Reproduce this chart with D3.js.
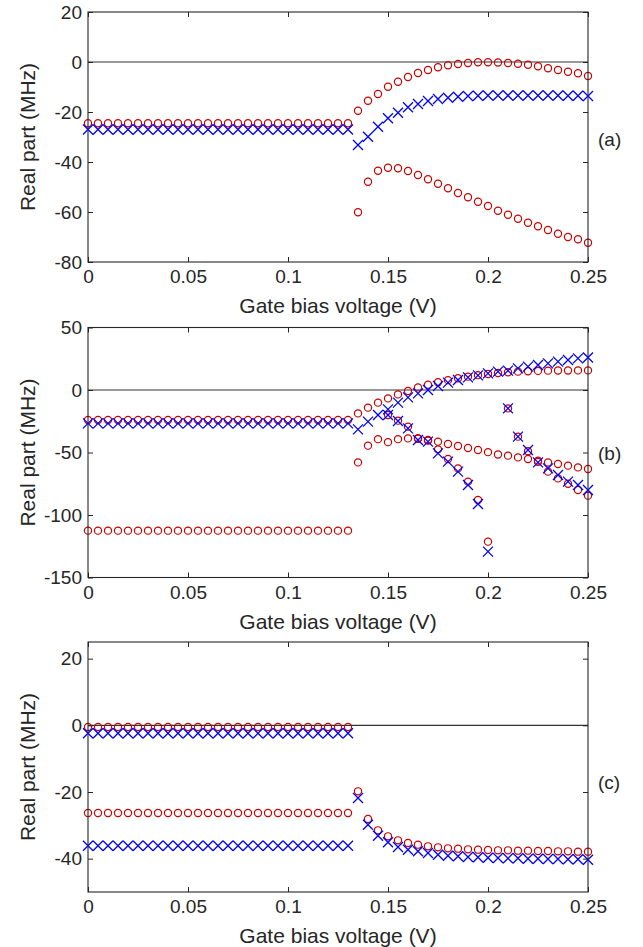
<!DOCTYPE html>
<html>
<head>
<meta charset="utf-8">
<script src="https://cdn.jsdelivr.net/npm/d3@7/dist/d3.min.js"></script>
<style>
  html, body { margin: 0; padding: 0; background: #fff; }
  svg { display: block; }
  text { font-family: "Liberation Sans", Arial, Helvetica, sans-serif; fill: #262626; }
</style>
</head>
<body>
<svg id="chart" width="643" height="947"></svg>
<script>
// Gate bias sweep (V)
const gateBias = [
  0.000, 0.005, 0.010, 0.015, 0.020, 0.025, 0.030, 0.035, 0.040, 0.045,
  0.050, 0.055, 0.060, 0.065, 0.070, 0.075, 0.080, 0.085, 0.090, 0.095,
  0.100, 0.105, 0.110, 0.115, 0.120, 0.125, 0.130, 0.135, 0.140, 0.145,
  0.150, 0.155, 0.160, 0.165, 0.170, 0.175, 0.180, 0.185, 0.190, 0.195,
  0.200, 0.205, 0.210, 0.215, 0.220, 0.225, 0.230, 0.235, 0.240, 0.245,
  0.250
];

const N = null;

// Panel (a): real parts (MHz)
const aCircle1 = [
  -24.5, -24.5, -24.5, -24.5, -24.5, -24.5, -24.5, -24.5, -24.5, -24.5,
  -24.5, -24.5, -24.5, -24.5, -24.5, -24.5, -24.5, -24.5, -24.5, -24.5,
  -24.5, -24.5, -24.5, -24.5, -24.5, -24.5, -24.5, -19.5, -15.5, -12.8,
  -9.9, -7.9, -6.0, -4.4, -3.2, -2.1, -1.3, -0.8, -0.4, -0.1,
  -0.1, -0.2, -0.4, -0.7, -1.1, -1.7, -2.5, -3.2, -3.9, -4.5,
  -5.6
];
const aCircle2 = [
  N, N, N, N, N, N, N, N, N, N,
  N, N, N, N, N, N, N, N, N, N,
  N, N, N, N, N, N, N, -60.1, -47.9, -43.5,
  -42.3, -42.5, -43.6, -45.2, -46.9, -48.7, -50.5, -52.4, -54.1, -55.9,
  -57.6, -59.5, -61.1, -62.7, -64.3, -65.7, -67.2, -68.7, -70.0, -70.9,
  -72.3
];
const aCross1 = [
  -27.0, -27.0, -27.0, -27.0, -27.0, -27.0, -27.0, -27.0, -27.0, -27.0,
  -27.0, -27.0, -27.0, -27.0, -27.0, -27.0, -27.0, -27.0, -27.0, -27.0,
  -27.0, -27.0, -27.0, -27.0, -27.0, -27.0, -27.0, -33.2, -29.9, -25.9,
  -22.5, -20.3, -18.1, -16.8, -15.6, -14.8, -14.3, -13.9, -13.6, -13.5,
  -13.4, -13.4, -13.4, -13.4, -13.4, -13.4, -13.4, -13.4, -13.5, -13.5,
  -13.6
];

// Panel (b): real parts (MHz)
const bCircle1 = [
  -24.0, -24.0, -24.0, -24.0, -24.0, -24.0, -24.0, -24.0, -24.0, -24.0,
  -24.0, -24.0, -24.0, -24.0, -24.0, -24.0, -24.0, -24.0, -24.0, -24.0,
  -24.0, -24.0, -24.0, -24.0, -24.0, -24.0, -24.0, -18.7, -14.1, -10.1,
  -6.7, -3.5, -0.8, 2.1, 4.2, 6.2, 7.9, 9.4, 10.7, 11.9,
  12.8, 13.6, 14.2, 14.7, 15.0, 15.3, 15.5, 15.6, 15.6, 15.7,
  15.7
];
const bCircle2 = [
  -112.5, -112.5, -112.5, -112.5, -112.5, -112.5, -112.5, -112.5, -112.5, -112.5,
  -112.5, -112.5, -112.5, -112.5, -112.5, -112.5, -112.5, -112.5, -112.5, -112.5,
  -112.5, -112.5, -112.5, -112.5, -112.5, -112.5, -112.5, -57.9, -44.5, -39.3,
  -41.7, -39.3, -38.7, -38.6, -40.0, -41.3, -43.2, -44.8, -46.4, -48.0,
  -49.7, -51.6, -52.5, -53.9, -55.2, -56.5, -58.0, -59.2, -60.5, -61.9,
  -63.2
];
const bCircle3 = [
  N, N, N, N, N, N, N, N, N, N,
  N, N, N, N, N, N, N, N, N, N,
  N, N, N, N, N, N, N, N, N, N,
  -20.0, -24.5, -29.3, -39.0, -40.5, -47.5, -55.2, -62.7, -73.3, -88.0,
  -121.3, N, -14.7, -37.3, -49.0, -57.5, -65.3, -70.7, -75.0, -80.0,
  -84.5
];
const bCross1 = [
  -26.7, -26.7, -26.7, -26.7, -26.7, -26.7, -26.7, -26.7, -26.7, -26.7,
  -26.7, -26.7, -26.7, -26.7, -26.7, -26.7, -26.7, -26.7, -26.7, -26.7,
  -26.7, -26.7, -26.7, -26.7, -26.7, -26.7, -26.7, -31.5, -25.3, -20.0,
  -15.5, -10.1, -5.9, -2.7, 0.0, 3.2, 5.9, 8.0, 10.1, 11.7,
  13.3, 14.7, 15.5, 17.3, 18.7, 20.0, 21.3, 22.7, 24.0, 25.3,
  26.0
];
const bCross2 = [
  N, N, N, N, N, N, N, N, N, N,
  N, N, N, N, N, N, N, N, N, N,
  N, N, N, N, N, N, N, N, N, N,
  -20.0, -24.8, -30.7, -40.0, -41.3, -50.7, -57.3, -65.3, -76.0, -91.2,
  -129.3, N, -14.7, -37.3, -48.0, -57.9, -62.7, -68.0, -73.3, -76.0,
  -80.0
];

// Panel (c): real parts (MHz)
const cCircle1 = [
  -0.5, -0.5, -0.5, -0.5, -0.5, -0.5, -0.5, -0.5, -0.5, -0.5,
  -0.5, -0.5, -0.5, -0.5, -0.5, -0.5, -0.5, -0.5, -0.5, -0.5,
  -0.5, -0.5, -0.5, -0.5, -0.5, -0.5, -0.5, -19.8, -28.1, -31.5,
  -33.3, -34.5, -35.3, -35.8, -36.3, -36.6, -36.9, -37.0, -37.2, -37.3,
  -37.4, -37.5, -37.5, -37.6, -37.6, -37.7, -37.7, -37.8, -37.8, -37.9,
  -37.9
];
const cCircle2 = [
  -26.3, -26.3, -26.3, -26.3, -26.3, -26.3, -26.3, -26.3, -26.3, -26.3,
  -26.3, -26.3, -26.3, -26.3, -26.3, -26.3, -26.3, -26.3, -26.3, -26.3,
  -26.3, -26.3, -26.3, -26.3, -26.3, -26.3, -26.3, N, N, N,
  N, N, N, N, N, N, N, N, N, N,
  N, N, N, N, N, N, N, N, N, N,
  N
];
const cCross1 = [
  -2.4, -2.4, -2.4, -2.4, -2.4, -2.4, -2.4, -2.4, -2.4, -2.4,
  -2.4, -2.4, -2.4, -2.4, -2.4, -2.4, -2.4, -2.4, -2.4, -2.4,
  -2.4, -2.4, -2.4, -2.4, -2.4, -2.4, -2.4, -21.8, -29.8, -33.1,
  -35.1, -36.5, -37.3, -37.8, -38.3, -38.8, -39.1, -39.3, -39.5, -39.6,
  -39.7, -39.8, -39.9, -39.9, -40.0, -40.0, -40.1, -40.1, -40.2, -40.2,
  -40.3
];
const cCross2 = [
  -36.1, -36.1, -36.1, -36.1, -36.1, -36.1, -36.1, -36.1, -36.1, -36.1,
  -36.1, -36.1, -36.1, -36.1, -36.1, -36.1, -36.1, -36.1, -36.1, -36.1,
  -36.1, -36.1, -36.1, -36.1, -36.1, -36.1, -36.1, N, N, N,
  N, N, N, N, N, N, N, N, N, N,
  N, N, N, N, N, N, N, N, N, N,
  N
];

// Axis ticks and labels
const xTicks = [0, 0.05, 0.1, 0.15, 0.2, 0.25];
const xTickLabels = ["0", "0.05", "0.1", "0.15", "0.2", "0.25"];
const yTicksA = [20, 0, -20, -40, -60, -80];
const yTicksB = [50, 0, -50, -100, -150];
const yTicksC = [20, 0, -20, -40];
const yDomainA = [-80, 20];
const yDomainB = [-150, 50];
const yDomainC = [-50, 25];
const panelLetters = ["(a)", "(b)", "(c)"];
const xTitle = "Gate bias voltage (V)";
const yTitle = "Real part (MHz)";

const panels = [
  { circles: [aCircle1, aCircle2], crosses: [aCross1], domain: yDomainA, ticks: yTicksA, letter: panelLetters[0], top: 12, letterY: 139.5 },
  { circles: [bCircle1, bCircle2, bCircle3], crosses: [bCross1, bCross2], domain: yDomainB, ticks: yTicksB, letter: panelLetters[1], top: 327.5, letterY: 453 },
  { circles: [cCircle1, cCircle2], crosses: [cCross1, cCross2], domain: yDomainC, ticks: yTicksC, letter: panelLetters[2], top: 642, letterY: 782 }
];

const svg = d3.select("#chart");
const left = 88, right = 588, plotH = 250;
const axisColor = "#262626";
const redColor = "#c80000";
const blueColor = "#0000ff";
const tickFont = 19, titleFont = 21;

const x = d3.scaleLinear().domain([0, 0.25]).range([left, right]);

panels.forEach(p => {
  const top = p.top, bottom = top + plotH;
  const y = d3.scaleLinear().domain(p.domain).range([bottom, top]);
  const g = svg.append("g");

  // zero reference line
  g.append("line")
    .attr("x1", x(0)).attr("x2", x(0.25))
    .attr("y1", y(0)).attr("y2", y(0))
    .attr("stroke", "#333").attr("stroke-width", 1.1);

  // circle markers
  p.circles.forEach(series => {
    g.append("g").selectAll("circle")
      .data(gateBias.map((v, i) => [v, series[i]]).filter(d => d[1] !== null))
      .join("circle")
      .attr("cx", d => x(d[0]))
      .attr("cy", d => y(d[1]))
      .attr("r", 3.6)
      .attr("fill", "none")
      .attr("stroke", redColor)
      .attr("stroke-width", 1.2);
  });

  // cross markers
  const s = 5;
  p.crosses.forEach(series => {
    g.append("g").selectAll("path")
      .data(gateBias.map((v, i) => [v, series[i]]).filter(d => d[1] !== null))
      .join("path")
      .attr("d", d => {
        const cx = x(d[0]), cy = y(d[1]);
        return `M${cx - s},${cy - s}L${cx + s},${cy + s}M${cx - s},${cy + s}L${cx + s},${cy - s}`;
      })
      .attr("fill", "none")
      .attr("stroke", blueColor)
      .attr("stroke-width", 1.3);
  });

  // axes: ticks inward on all four sides
  const xb = g.append("g").attr("transform", `translate(0,${bottom})`)
    .call(d3.axisBottom(x).tickValues(xTicks).tickSize(-5).tickPadding(8)
      .tickFormat((d, i) => xTickLabels[i]));
  const xt = g.append("g").attr("transform", `translate(0,${top})`)
    .call(d3.axisTop(x).tickValues(xTicks).tickSize(-5).tickFormat(""));
  const yl = g.append("g").attr("transform", `translate(${left},0)`)
    .call(d3.axisLeft(y).tickValues(p.ticks).tickSize(-5).tickPadding(6)
      .tickFormat(d => String(d)));
  const yr = g.append("g").attr("transform", `translate(${right},0)`)
    .call(d3.axisRight(y).tickValues(p.ticks).tickSize(-5).tickFormat(""));

  [xb, xt, yl, yr].forEach(a => {
    a.select(".domain").remove();
    a.selectAll(".tick line").attr("stroke", axisColor).attr("stroke-width", 1);
    a.selectAll(".tick text")
      .attr("fill", axisColor)
      .style("font-size", tickFont + "px")
      .style("font-family", "'Liberation Sans', Arial, sans-serif");
  });

  g.append("rect")
    .attr("x", left).attr("y", top)
    .attr("width", right - left).attr("height", plotH)
    .attr("fill", "none").attr("stroke", axisColor).attr("stroke-width", 1.1);

  // axis titles
  g.append("text")
    .attr("x", (left + right) / 2)
    .attr("y", bottom + 51)
    .attr("text-anchor", "middle")
    .style("font-size", titleFont + "px")
    .text(xTitle);

  g.append("text")
    .attr("transform", `translate(35,${top + plotH / 2}) rotate(-90)`)
    .attr("text-anchor", "middle")
    .style("font-size", titleFont + "px")
    .text(yTitle);

  // panel letter
  g.append("text")
    .attr("x", 598)
    .attr("y", p.letterY)
    .attr("dy", "0.35em")
    .style("font-size", tickFont + "px")
    .text(p.letter);
});
</script>
</body>
</html>
